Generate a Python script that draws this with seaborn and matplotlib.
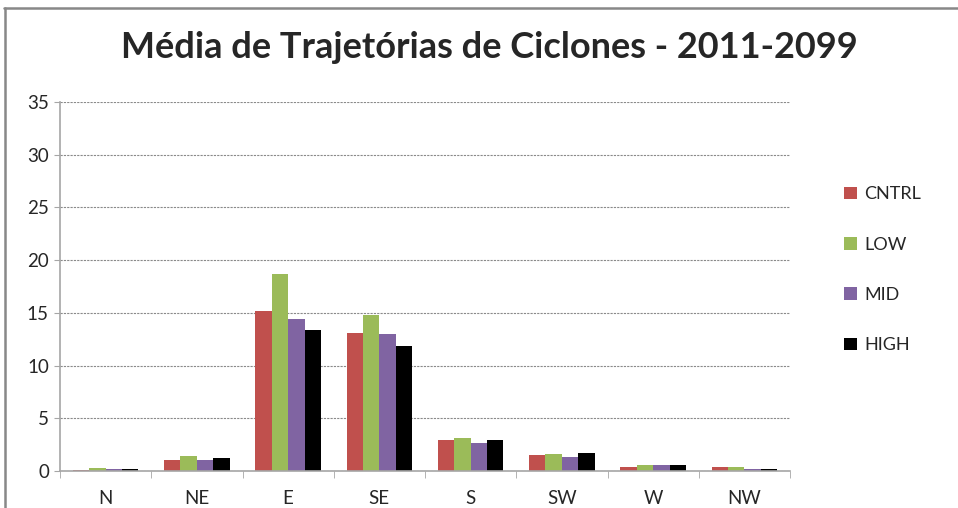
import pandas as pd
import numpy as np
import matplotlib.pyplot as plt
import seaborn as sns
from matplotlib.lines import Line2D

directions = ['N', 'NE', 'E', 'SE', 'S', 'SW', 'W', 'NW']
cntrl = [0.13, 1.08, 15.13, 13.13, 2.90, 1.50, 0.41, 0.41]
low = [0.32, 1.46, 18.73, 14.81, 3.15, 1.59, 0.54, 0.41]
mid = [0.22, 1.08, 14.43, 13.04, 2.67, 1.31, 0.54, 0.22]
high = [0.22, 1.27, 13.42, 11.87, 2.90, 1.72, 0.54, 0.22]
series = ['CNTRL', 'LOW', 'MID', 'HIGH']
colors = ['#C0504D', '#9BBB59', '#8064A2', '#000000']

df = pd.DataFrame({'dir': directions * 4,
                   'val': cntrl + low + mid + high,
                   'serie': np.repeat(series, len(directions))})

sns.set_style('white')
plt.rcParams['font.family'] = ['Lato', 'DejaVu Sans']

fig = plt.figure(figsize=(9.58, 5.08), dpi=100)
ax = fig.add_axes([60/958, 37/508, 730/958, 369/508])

sns.barplot(data=df, x='dir', y='val', hue='serie', palette=colors,
            width=0.72, saturation=1, edgecolor='none', ax=ax, legend=True)

ax.set_ylim(0, 35)
ax.set_xlim(-0.5, 7.5)
ax.set_yticks(range(0, 36, 5))
ax.set_xlabel('')
ax.set_ylabel('')
ax.yaxis.grid(True, linestyle=(0, (2, 1)), color='#8a8a8a', linewidth=0.8)
ax.set_axisbelow(True)
for s in ['top', 'right']:
    ax.spines[s].set_visible(False)
for s in ['left', 'bottom']:
    ax.spines[s].set_color('#a6a6a6')
    ax.spines[s].set_linewidth(1.2)

ax.tick_params(axis='y', length=4, color='#a6a6a6', labelsize=13.5, pad=4, left=True)
ax.tick_params(axis='x', length=0, labelsize=13.5, pad=14)
ax.set_xticks(np.arange(-0.5, 8, 1), minor=True)
ax.tick_params(axis='x', which='minor', length=5, color='#a6a6a6', bottom=True)

h, l = ax.get_legend_handles_labels()
ax.legend(h, l, loc='upper left', bbox_to_anchor=(828/958, 1 - 170/508),
          bbox_transform=fig.transFigure, frameon=False, fontsize=13,
          handlelength=0.7, handleheight=0.7, handletextpad=0.4, labelspacing=1.9)

fig.suptitle('Média de Trajetórias de Ciclones - 2011-2099', fontsize=26,
             fontweight='bold', x=489/958, y=1 - 48/508, va='center')

fig.add_artist(Line2D([4/958, 1], [1 - 8/508] * 2, color='#888888', lw=1.8))
fig.add_artist(Line2D([5/958] * 2, [0, 1 - 8/508], color='#888888', lw=1.8))

fig.savefig('out.png', dpi=100)
